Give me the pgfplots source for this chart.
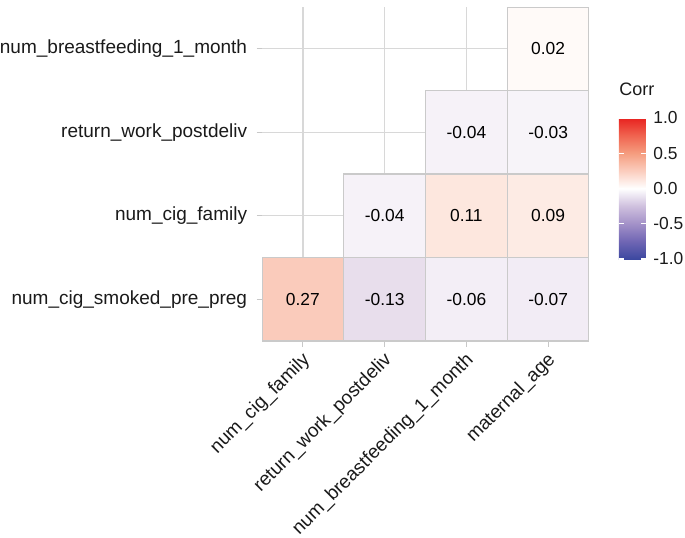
\documentclass[border=0pt]{standalone}
\usepackage{pgfplots}
\pgfplotsset{compat=1.18}
\usepackage{fontspec}
\setmainfont{Liberation Sans}
\definecolor{gridc}{RGB}{216,216,216}
\definecolor{tickc}{RGB}{200,200,200}
\definecolor{borderc}{RGB}{202,202,202}
\definecolor{txt}{RGB}{26,26,26}
% tile colours
\definecolor{t11}{RGB}{250,203,187}% 0.27
\definecolor{t21}{RGB}{232,222,236}% -0.13
\definecolor{t31}{RGB}{243,238,246}% -0.06
\definecolor{t41}{RGB}{242,236,245}% -0.07
\definecolor{t22}{RGB}{246,242,248}% -0.04
\definecolor{t32}{RGB}{253,231,222}% 0.11
\definecolor{t42}{RGB}{253,235,228}% 0.09
\definecolor{t33}{RGB}{246,242,248}% -0.04
\definecolor{t43}{RGB}{247,244,249}% -0.03
\definecolor{t44}{RGB}{255,250,248}% 0.02
\pgfplotsset{tile/.style={draw=borderc, line width=0.6pt, fill=#1}}
\begin{document}
\begin{tikzpicture}
\path[use as bounding box] (0,0) rectangle (342.5pt,268.5pt);
\begin{axis}[
  at={(131pt,98pt)}, anchor=south west,
  scale only axis, width=163.5pt, height=167pt,
  xmin=0.5, xmax=4.5, ymin=0.5, ymax=4.5,
  axis line style={draw=none},
  xtick={1,2,3,4}, ytick={1,2,3,4},
  xticklabels={num\_cig\_family, return\_work\_postdeliv, num\_breastfeeding\_1\_month, maternal\_age},
  yticklabels={num\_cig\_smoked\_pre\_preg, num\_cig\_family, return\_work\_postdeliv, num\_breastfeeding\_1\_month},
  tick pos=left, tick align=outside, major tick length=2.75pt,
  tick style={draw=tickc, line width=0.55pt},
  grid=major, major grid style={draw=gridc, line width=0.7pt},
  yticklabel style={font=\fontsize{9.5}{11}\selectfont, text=txt, inner sep=0pt, anchor=east, xshift=-4.5pt},
  xticklabel style={font=\fontsize{9.5}{11}\selectfont, text=txt, inner sep=0pt, xshift=-1pt, yshift=-2pt, rotate=45, anchor=north east},
  colormap={corr}{rgb255=(60,72,160) rgb255=(112,102,180) rgb255=(163,145,200) rgb255=(207,192,222) rgb255=(255,255,255) rgb255=(251,205,190) rgb255=(245,157,127) rgb255=(240,100,80) rgb255=(232,35,32)},
  point meta min=-1, point meta max=1,
  colorbar,
  colorbar shift/.style={},
  colorbar style={
    at={(parent axis.north east)}, anchor=north west, xshift=15pt, yshift=-55.5pt,
    scale only axis, width=13.5pt, height=70.5pt,
    axis line style={draw=none},
    ytick={-1,-0.5,0,0.5,1},
    yticklabel pos=right, ytick pos=both, tick align=inside,
    major tick length=2.5pt, tick style={draw=white, line width=0.6pt},
    /pgf/number format/.cd, fixed, fixed zerofill, precision=1, assume math mode=true, /pgfplots/.cd,
    yticklabel style={font=\fontsize{8.7}{10}\selectfont, text=txt, inner sep=0pt, anchor=west, xshift=3.5pt},
    title=Corr,
    title style={at={(0,1)}, anchor=south west, inner sep=0pt, yshift=5pt, font=\fontsize{9}{11}\selectfont, text=txt},
  },
]
\addplot[tile=t11] coordinates {(0.5,0.5) (1.5,0.5) (1.5,1.5) (0.5,1.5)} -- cycle;
\addplot[tile=t21] coordinates {(1.5,0.5) (2.5,0.5) (2.5,1.5) (1.5,1.5)} -- cycle;
\addplot[tile=t31] coordinates {(2.5,0.5) (3.5,0.5) (3.5,1.5) (2.5,1.5)} -- cycle;
\addplot[tile=t41] coordinates {(3.5,0.5) (4.5,0.5) (4.5,1.5) (3.5,1.5)} -- cycle;
\addplot[tile=t22] coordinates {(1.5,1.5) (2.5,1.5) (2.5,2.5) (1.5,2.5)} -- cycle;
\addplot[tile=t32] coordinates {(2.5,1.5) (3.5,1.5) (3.5,2.5) (2.5,2.5)} -- cycle;
\addplot[tile=t42] coordinates {(3.5,1.5) (4.5,1.5) (4.5,2.5) (3.5,2.5)} -- cycle;
\addplot[tile=t33] coordinates {(2.5,2.5) (3.5,2.5) (3.5,3.5) (2.5,3.5)} -- cycle;
\addplot[tile=t43] coordinates {(3.5,2.5) (4.5,2.5) (4.5,3.5) (3.5,3.5)} -- cycle;
\addplot[tile=t44] coordinates {(3.5,3.5) (4.5,3.5) (4.5,4.5) (3.5,4.5)} -- cycle;
\addplot[draw=none, nodes near coords, point meta=explicit symbolic,
  every node near coord/.append style={anchor=center, inner sep=0pt, text=black, font=\fontsize{8.7}{10}\selectfont}]
  table[meta=lab] {
x y lab
1 1 0.27
2 1 -0.13
3 1 -0.06
4 1 -0.07
2 2 -0.04
3 2 0.11
4 2 0.09
3 3 -0.04
4 3 -0.03
4 4 0.02
};
\end{axis}
\end{tikzpicture}
\end{document}
